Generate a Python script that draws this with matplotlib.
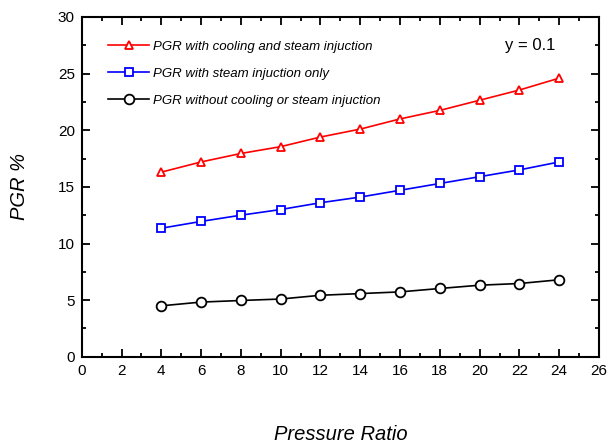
import matplotlib
matplotlib.use("Agg")
import matplotlib.pyplot as plt
from matplotlib.ticker import MultipleLocator

plt.rcParams['font.family'] = ['Liberation Sans', 'DejaVu Sans']

pressure_ratio = [4, 6, 8, 10, 12, 14, 16, 18, 20, 22, 24]
pgr_cool_steam = [16.3, 17.2, 17.95, 18.55, 19.4, 20.1, 21.0, 21.75, 22.65, 23.55, 24.6]
pgr_steam_only = [11.35, 11.95, 12.5, 13.0, 13.6, 14.1, 14.7, 15.3, 15.9, 16.5, 17.2]
pgr_none = [4.5, 4.83, 4.97, 5.1, 5.43, 5.58, 5.73, 6.03, 6.32, 6.47, 6.8]
labels = ["PGR with cooling and steam injuction",
          "PGR with steam injuction only",
          "PGR without cooling or steam injuction"]

fig = plt.figure(figsize=(6.1, 4.46), dpi=100)
ax = fig.add_axes([0.134, 0.2, 0.848, 0.762])

ax.plot(pressure_ratio, pgr_cool_steam, color='red', lw=1.2, marker='^', ms=6,
        mfc='white', mec='red', mew=1.3, label=labels[0])
ax.plot(pressure_ratio, pgr_steam_only, color='blue', lw=1.2, marker='s', ms=6,
        mfc='white', mec='blue', mew=1.3, label=labels[1])
ax.plot(pressure_ratio, pgr_none, color='black', lw=1.2, marker='o', ms=7,
        mfc='white', mec='black', mew=1.3, label=labels[2])

ax.set_xlim(0, 26)
ax.set_ylim(0, 30)
ax.xaxis.set_major_locator(MultipleLocator(2))
ax.xaxis.set_minor_locator(MultipleLocator(1))
ax.yaxis.set_major_locator(MultipleLocator(5))
ax.yaxis.set_minor_locator(MultipleLocator(2.5))
ax.tick_params(which='both', direction='in', top=True, right=True, labelsize=11, width=1.3)
ax.tick_params(which='major', length=6, pad=5)
ax.tick_params(which='minor', length=3)
for s in ax.spines.values():
    s.set_linewidth(1.5)

ax.set_xlabel("Pressure Ratio", fontsize=14.5, style='italic', labelpad=34)
ax.set_ylabel("PGR %", fontsize=14.5, style='italic', labelpad=21)

leg = ax.legend(loc='upper left', bbox_to_anchor=(0.028, 0.966), frameon=False,
                prop={'style': 'italic', 'size': 9.5}, handlelength=3.1,
                handletextpad=0.3, labelspacing=1.12)

ax.text(0.915, 0.915, "y = 0.1", transform=ax.transAxes, ha='right', va='center', fontsize=12)

fig.savefig("out.png", dpi=100)
